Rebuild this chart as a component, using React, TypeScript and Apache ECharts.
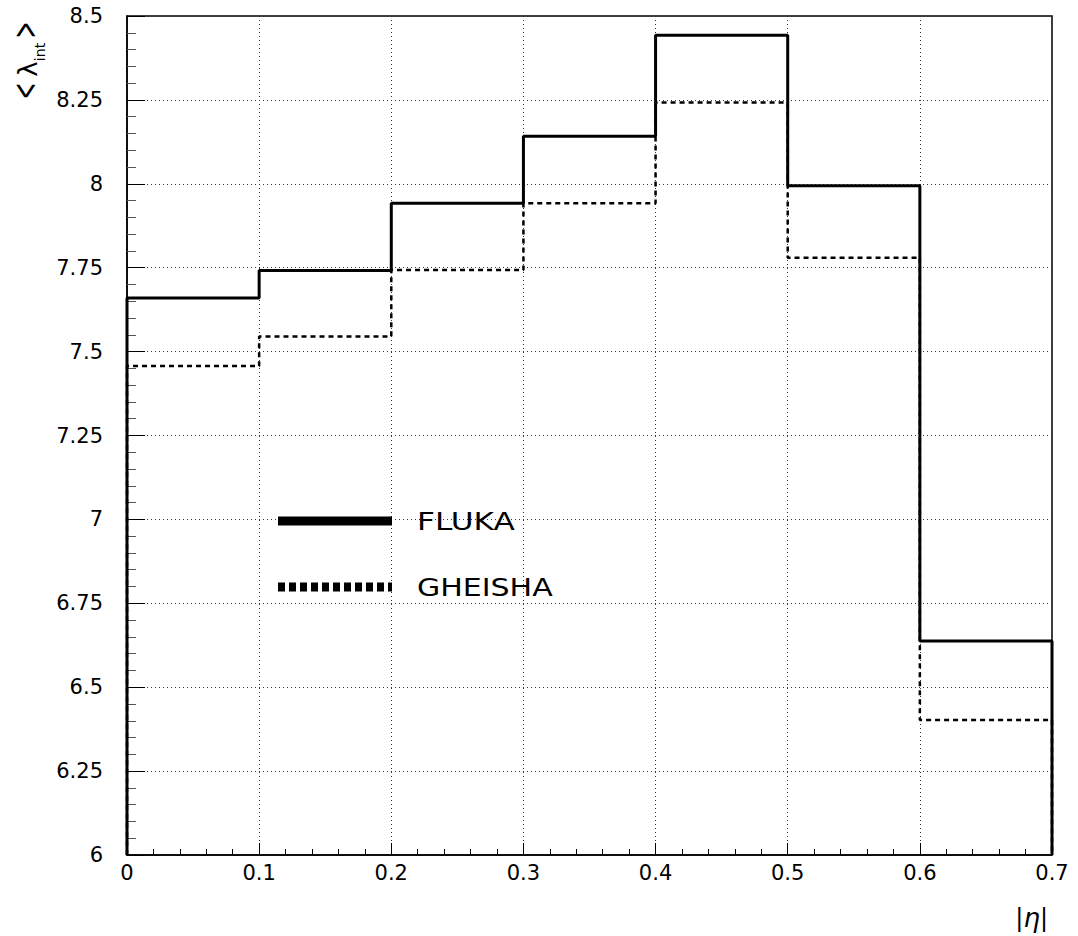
import React, { useEffect, useRef } from "react";
import * as echarts from "echarts";

// ---- data ----
const binEdges = [0, 0.1, 0.2, 0.3, 0.4, 0.5, 0.6, 0.7];
const flukaValues = [7.66, 7.742, 7.942, 8.142, 8.443, 7.994, 6.638];
const gheishaValues = [7.457, 7.545, 7.743, 7.942, 8.242, 7.78, 6.402];
const seriesNames = ["FLUKA", "GHEISHA"];
const yMin = 6;
const yMax = 8.5;
const yStep = 0.25;
const xMin = 0;
const xMax = 0.7;
const xStep = 0.1;

function stepPoints(edges: number[], values: number[], base: number) {
  const pts: number[][] = [[edges[0], base]];
  values.forEach((v, i) => {
    pts.push([edges[i], v]);
    pts.push([edges[i + 1], v]);
  });
  pts.push([edges[edges.length - 1], base]);
  return pts;
}

const FONT = "DejaVu Sans";
const labelRich = { t: { fontFamily: FONT, fontSize: 21, color: "#000" } };

export default function App() {
  const ref = useRef<HTMLDivElement>(null);
  useEffect(() => {
    if (!ref.current) return;
    const chart = echarts.init(ref.current, undefined, { renderer: "svg" });
    const option: any = {
      animation: false,
      backgroundColor: "#fff",
      textStyle: { fontFamily: FONT },
      grid: {
        left: 127,
        right: 26,
        top: 16,
        bottom: 81,
        show: true,
        borderColor: "#000",
        borderWidth: 1.5,
      },
      xAxis: {
        type: "value",
        min: xMin,
        max: xMax,
        interval: xStep,
        axisLine: { show: true, onZero: false, lineStyle: { color: "#000", width: 1.5 } },
        axisTick: { show: true, inside: true, length: 12, lineStyle: { color: "#000", width: 1 } },
        minorTick: { show: true, splitNumber: 5, length: 6, lineStyle: { color: "#000", width: 1 } },
        splitLine: { show: true, lineStyle: { color: "#333", width: 1, type: [1, 3] } },
        axisLabel: {
          color: "#000",
          fontFamily: FONT,
          fontSize: 21,
          margin: 7,
          formatter: (v: number) => `{t|${v}}`,
          rich: labelRich,
        },
      },
      yAxis: {
        type: "value",
        min: yMin,
        max: yMax,
        interval: yStep,
        axisLine: { show: true, onZero: false, lineStyle: { color: "#000", width: 1.5 } },
        axisTick: { show: true, inside: true, length: 18, lineStyle: { color: "#000", width: 1 } },
        minorTick: { show: true, splitNumber: 5, length: 9, lineStyle: { color: "#555", width: 1 } },
        splitLine: { show: true, lineStyle: { color: "#333", width: 1, type: [1, 3] } },
        axisLabel: {
          color: "#000",
          fontFamily: FONT,
          fontSize: 21,
          margin: 24,
          formatter: (v: number) => `{t|${v}}`,
          rich: labelRich,
        },
      },
      series: [
        {
          name: seriesNames[1],
          type: "line",
          data: stepPoints(binEdges, gheishaValues, yMin),
          symbol: "none",
          clip: false,
          lineStyle: { color: "#000", width: 2.5, type: [5, 4] },
          z: 3,
        },
        {
          name: seriesNames[0],
          type: "line",
          data: stepPoints(binEdges, flukaValues, yMin),
          symbol: "none",
          clip: false,
          lineStyle: { color: "#000", width: 3 },
          z: 4,
        },
      ],
      graphic: [
        // legend
        {
          type: "line",
          shape: { x1: 278, y1: 521, x2: 392, y2: 521 },
          style: { stroke: "#000", lineWidth: 9 },
          z: 10,
        },
        {
          type: "text",
          x: 417,
          y: 522,
          scaleX: 1.3,
          style: { text: seriesNames[0], fill: "#000", font: `24px "${FONT}"`, align: "left", verticalAlign: "middle" },
          z: 10,
        },
        {
          type: "line",
          shape: { x1: 278, y1: 587, x2: 392, y2: 587 },
          style: { stroke: "#000", lineWidth: 9, lineDash: [7, 4] },
          z: 10,
        },
        {
          type: "text",
          x: 417,
          y: 588,
          scaleX: 1.25,
          style: { text: seriesNames[1], fill: "#000", font: `24px "${FONT}"`, align: "left", verticalAlign: "middle" },
          z: 10,
        },
        // x axis title
        {
          type: "text",
          x: 1048,
          y: 918,
          style: {
            text: "|{e|η}|",
            fill: "#000",
            font: `24px "${FONT}"`,
            align: "right",
            verticalAlign: "middle",
            rich: { e: { fontFamily: FONT, fontSize: 26, fontStyle: "italic", fill: "#000" } },
          },
        },
        // y axis title, rotated
        {
          type: "group",
          x: 37,
          y: 100,
          rotation: Math.PI / 2,
          children: [
            {
              type: "text",
              x: 9,
              y: -12.5,
              scaleY: 1.6,
              scaleX: 0.9,
              style: { text: "<", fill: "#000", font: `22px "${FONT}"`, align: "center", verticalAlign: "middle" },
            },
            {
              type: "text",
              x: 31,
              y: -9,
              style: { text: "λ", fill: "#000", font: `26px "${FONT}"`, align: "center", verticalAlign: "middle" },
            },
            {
              type: "text",
              x: 48,
              y: 3,
              style: { text: "int", fill: "#000", font: `14px "${FONT}"`, align: "center", verticalAlign: "middle" },
            },
            {
              type: "text",
              x: 70,
              y: -12.5,
              scaleY: 1.6,
              scaleX: 0.9,
              style: { text: ">", fill: "#000", font: `22px "${FONT}"`, align: "center", verticalAlign: "middle" },
            },
          ],
        },
      ],
    };
    chart.setOption(option);
    return () => chart.dispose();
  }, []);
  return (
    <div
      ref={ref}
      style={{ position: "fixed", left: 0, top: 0, width: 1078, height: 936, background: "#fff" }}
    />
  );
}
